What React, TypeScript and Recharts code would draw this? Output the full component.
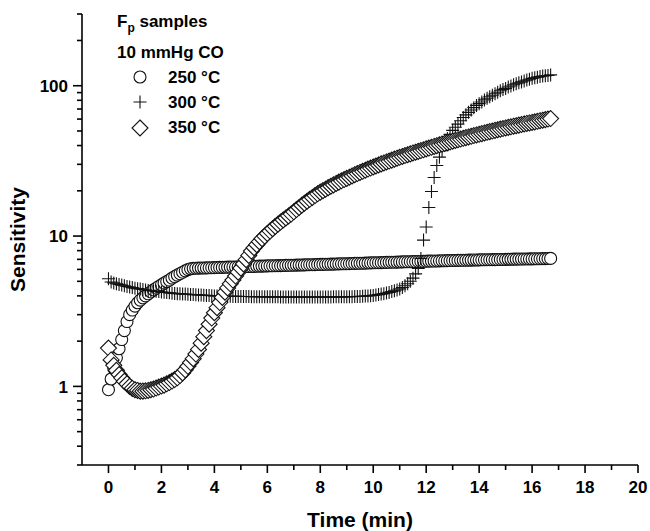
import { ScatterChart, Scatter, XAxis, YAxis } from 'recharts';

// sampling times (min), shared by the three runs
const TIME = [
  0, 0.1, 0.2, 0.3, 0.4, 0.5, 0.6, 0.7, 0.8, 0.9,
  1, 1.1, 1.2, 1.3, 1.4, 1.5, 1.6, 1.7, 1.8, 1.9,
  2, 2.1, 2.2, 2.3, 2.4, 2.5, 2.6, 2.7, 2.8, 2.9,
  3, 3.1, 3.2, 3.3, 3.4, 3.5, 3.6, 3.7, 3.8, 3.9,
  4, 4.1, 4.2, 4.3, 4.4, 4.5, 4.6, 4.7, 4.8, 4.9,
  5, 5.1, 5.2, 5.3, 5.4, 5.5, 5.6, 5.7, 5.8, 5.9,
  6, 6.1, 6.2, 6.3, 6.4, 6.5, 6.6, 6.7, 6.8, 6.9,
  7, 7.1, 7.2, 7.3, 7.4, 7.5, 7.6, 7.7, 7.8, 7.9,
  8, 8.1, 8.2, 8.3, 8.4, 8.5, 8.6, 8.7, 8.8, 8.9,
  9, 9.1, 9.2, 9.3, 9.4, 9.5, 9.6, 9.7, 9.8, 9.9,
  10, 10.1, 10.2, 10.3, 10.4, 10.5, 10.6, 10.7, 10.8, 10.9,
  11, 11.1, 11.2, 11.3, 11.4, 11.5, 11.6, 11.7, 11.8, 11.9,
  12, 12.1, 12.2, 12.3, 12.4, 12.5, 12.6, 12.7, 12.8, 12.9,
  13, 13.1, 13.2, 13.3, 13.4, 13.5, 13.6, 13.7, 13.8, 13.9,
  14, 14.1, 14.2, 14.3, 14.4, 14.5, 14.6, 14.7, 14.8, 14.9,
  15, 15.1, 15.2, 15.3, 15.4, 15.5, 15.6, 15.7, 15.8, 15.9,
  16, 16.1, 16.2, 16.3, 16.4, 16.5, 16.6, 16.7,
];

// 250 °C (circles)
const S250 = [
  0.95, 1.12, 1.32, 1.55, 1.78, 2.05, 2.35, 2.7, 3.0, 3.22,
  3.42, 3.6, 3.75, 3.88, 4.0, 4.13, 4.25, 4.38, 4.5, 4.62,
  4.74, 4.86, 4.98, 5.1, 5.25, 5.38, 5.5, 5.62, 5.75, 5.87,
  5.98, 6.06, 6.1, 6.11, 6.12, 6.13, 6.13, 6.14, 6.15, 6.16,
  6.17, 6.18, 6.19, 6.19, 6.2, 6.21, 6.22, 6.23, 6.23, 6.24,
  6.25, 6.26, 6.27, 6.27, 6.28, 6.29, 6.3, 6.31, 6.31, 6.32,
  6.33, 6.34, 6.34, 6.35, 6.36, 6.36, 6.37, 6.38, 6.39, 6.39,
  6.4, 6.41, 6.42, 6.42, 6.43, 6.44, 6.45, 6.45, 6.46, 6.47,
  6.48, 6.48, 6.49, 6.5, 6.51, 6.51, 6.52, 6.53, 6.54, 6.54,
  6.55, 6.56, 6.57, 6.58, 6.59, 6.59, 6.6, 6.61, 6.62, 6.63,
  6.64, 6.65, 6.65, 6.66, 6.67, 6.68, 6.69, 6.7, 6.7, 6.71,
  6.72, 6.73, 6.74, 6.74, 6.75, 6.76, 6.77, 6.78, 6.78, 6.79,
  6.8, 6.81, 6.82, 6.82, 6.83, 6.84, 6.85, 6.85, 6.86, 6.87,
  6.88, 6.88, 6.89, 6.9, 6.9, 6.91, 6.92, 6.92, 6.93, 6.93,
  6.94, 6.95, 6.95, 6.96, 6.96, 6.97, 6.97, 6.98, 6.99, 6.99,
  7.0, 7.01, 7.01, 7.02, 7.02, 7.03, 7.03, 7.04, 7.04, 7.05,
  7.05, 7.06, 7.06, 7.07, 7.08, 7.08, 7.09, 7.1,
];

// 300 °C (crosses)
const S300 = [
  5.2, 4.95, 4.88, 4.82, 4.77, 4.72, 4.67, 4.62, 4.58, 4.54,
  4.5, 4.47, 4.44, 4.41, 4.38, 4.35, 4.33, 4.31, 4.29, 4.27,
  4.25, 4.23, 4.21, 4.19, 4.17, 4.15, 4.14, 4.13, 4.12, 4.11,
  4.1, 4.09, 4.08, 4.07, 4.06, 4.05, 4.04, 4.03, 4.02, 4.01,
  4.0, 4.0, 3.99, 3.99, 3.98, 3.98, 3.98, 3.97, 3.97, 3.97,
  3.96, 3.96, 3.96, 3.96, 3.95, 3.95, 3.95, 3.95, 3.95, 3.94,
  3.94, 3.94, 3.94, 3.94, 3.94, 3.93, 3.93, 3.93, 3.93, 3.93,
  3.93, 3.93, 3.93, 3.93, 3.93, 3.93, 3.93, 3.93, 3.93, 3.93,
  3.93, 3.93, 3.93, 3.93, 3.93, 3.94, 3.94, 3.94, 3.94, 3.94,
  3.95, 3.95, 3.95, 3.96, 3.96, 3.97, 3.98, 3.99, 4.0, 4.01,
  4.03, 4.05, 4.08, 4.11, 4.14, 4.18, 4.22, 4.27, 4.32, 4.38,
  4.45, 4.55, 4.67, 4.82, 5.0, 5.25, 5.6, 6.1, 7.1, 9.4,
  11.5, 15.5, 19.8, 24.5, 29.5, 33.5, 37, 41, 44.5, 47.5,
  50.5, 53, 55.5, 58.5, 61.5, 64, 66.5, 69, 71.5, 74,
  76, 78, 80.5, 82.5, 84.5, 86.5, 88.5, 90.5, 92.5, 94.5,
  96, 98, 99.5, 101.5, 103, 104.5, 106, 107.5, 109, 110.5,
  112, 113, 114, 115, 116, 116.5, 117, 118,
];

// 350 °C (diamonds)
const S350 = [
  1.8, 1.5, 1.38, 1.28, 1.2, 1.14, 1.08, 1.04, 1.0, 0.97,
  0.95, 0.94, 0.93, 0.93, 0.935, 0.94, 0.95, 0.96, 0.975, 0.99,
  1.005, 1.02, 1.04, 1.06, 1.085, 1.11, 1.14, 1.18, 1.23, 1.29,
  1.36, 1.44, 1.53, 1.64, 1.76, 1.94, 2.14, 2.35, 2.59, 2.85,
  3.09, 3.34, 3.61, 3.91, 4.23, 4.52, 4.81, 5.1, 5.42, 5.75,
  6.12, 6.53, 6.97, 7.43, 7.94, 8.36, 8.77, 9.18, 9.6, 10.0,
  10.4, 10.8, 11.2, 11.6, 12.0, 12.4, 12.8, 13.2, 13.6, 14.0,
  14.5, 15.0, 15.5, 16.05, 16.55, 17.05, 17.55, 18.05, 18.6, 19.1,
  19.6, 20.05, 20.5, 21.0, 21.45, 21.9, 22.4, 22.85, 23.3, 23.75,
  24.2, 24.65, 25.1, 25.6, 26.05, 26.5, 26.95, 27.4, 27.9, 28.35,
  28.8, 29.25, 29.7, 30.2, 30.65, 31.1, 31.55, 32.0, 32.5, 32.95,
  33.4, 33.85, 34.3, 34.75, 35.2, 35.7, 36.15, 36.6, 37.05, 37.5,
  38.0, 38.5, 38.95, 39.45, 39.9, 40.4, 40.9, 41.35, 41.85, 42.3,
  42.8, 43.25, 43.75, 44.2, 44.7, 45.15, 45.65, 46.1, 46.6, 47.05,
  47.5, 48.0, 48.5, 49.0, 49.5, 49.95, 50.45, 50.95, 51.45, 51.9,
  52.4, 52.85, 53.3, 53.8, 54.25, 54.7, 55.2, 55.65, 56.1, 56.55,
  57.0, 57.5, 58.0, 58.5, 59.0, 59.5, 60.0, 60.5,
];

const X_TICKS = [0, 1, 2, 3, 4, 5, 6, 7, 8, 9, 10, 11, 12, 13, 14, 15, 16, 17, 18, 19, 20];
const Y_TICKS = [
  0.3, 0.4, 0.5, 0.6, 0.7, 0.8, 0.9,
  1, 2, 3, 4, 5, 6, 7, 8, 9,
  10, 20, 30, 40, 50, 60, 70, 80, 90,
  100, 200, 300,
];
const Y_LABELS = [1, 10, 100];

const FONT = '"Liberation Sans", Arial, Helvetica, sans-serif';
const INK = '#111';

const toPoints = (vals: number[]) => vals.map((v, i) => ({ t: TIME[i], v }));

function CircleDot({ cx, cy }: any) {
  return <circle cx={cx} cy={cy} r={6} fill="#fff" stroke={INK} strokeWidth={1.1} />;
}

function CrossDot({ cx, cy }: any) {
  const a = 6.5;
  return (
    <path d={`M${cx - a},${cy}H${cx + a}M${cx},${cy - a}V${cy + a}`} stroke={INK} strokeWidth={1.1} fill="none" />
  );
}

function DiamondDot({ cx, cy }: any) {
  const a = 8;
  return (
    <polygon
      points={`${cx},${cy - a} ${cx + a},${cy} ${cx},${cy + a} ${cx - a},${cy}`}
      fill="#fff"
      stroke={INK}
      strokeWidth={1.1}
    />
  );
}

function XTick({ x, y, payload }: any) {
  const major = payload.value % 2 === 0;
  return (
    <g>
      <line x1={x} x2={x} y1={y} y2={y + (major ? 8 : 5)} stroke="#000" strokeWidth={1.6} />
      {major && (
        <text x={x} y={y + 28} textAnchor="middle" fontFamily={FONT} fontWeight="bold" fontSize={17} fill="#000">
          {payload.value}
        </text>
      )}
    </g>
  );
}

function YTick({ x, y, payload }: any) {
  const major = Y_LABELS.includes(payload.value);
  return (
    <g>
      <line x1={x - (major ? 9 : 5)} x2={x} y1={y} y2={y} stroke="#000" strokeWidth={1.6} />
      {major && (
        <text x={x - 14} y={y} dy="0.36em" textAnchor="end" fontFamily={FONT} fontWeight="bold" fontSize={17} fill="#000">
          {payload.value}
        </text>
      )}
    </g>
  );
}

const legendText = { fontFamily: FONT, fontWeight: 'bold' as const, fontSize: 17, fill: '#000' };

export default function App() {
  return (
    <div style={{ position: 'fixed', left: 0, top: 0, width: 650, height: 531, background: '#fff' }}>
      <ScatterChart width={650} height={531} margin={{ top: 14, right: 12, left: 0, bottom: 0 }}>
        <XAxis
          type="number"
          dataKey="t"
          domain={[-1, 20]}
          ticks={X_TICKS}
          interval={0}
          tickSize={0}
          tickMargin={0}
          tickLine={false}
          tick={<XTick />}
          height={66}
          axisLine={{ stroke: '#000', strokeWidth: 1.6 }}
          label={{
            value: 'Time (min)',
            position: 'insideBottom',
            offset: 4,
            style: { fontFamily: FONT, fontWeight: 'bold', fontSize: 21, fill: '#000' },
          }}
        />
        <YAxis
          type="number"
          dataKey="v"
          scale="log"
          domain={[0.3, 300]}
          allowDataOverflow
          ticks={Y_TICKS}
          interval={0}
          tickSize={0}
          tickMargin={0}
          tickLine={false}
          tick={<YTick />}
          width={82}
          axisLine={{ stroke: '#000', strokeWidth: 1.6 }}
          label={{
            value: 'Sensitivity',
            angle: -90,
            position: 'insideLeft',
            offset: 18,
            style: { textAnchor: 'middle', fontFamily: FONT, fontWeight: 'bold', fontSize: 21, fill: '#000' },
          }}
        />
        <Scatter data={toPoints(S250)} shape={<CircleDot />} isAnimationActive={false} />
        <Scatter data={toPoints(S300)} shape={<CrossDot />} isAnimationActive={false} />
        <Scatter data={toPoints(S350)} shape={<DiamondDot />} isAnimationActive={false} />
      </ScatterChart>
      <svg width={650} height={531} style={{ position: 'absolute', left: 0, top: 0, pointerEvents: 'none' }}>
        <text x={117} y={27} {...legendText}>
          F<tspan dy={5} fontSize={12}>p</tspan>
          <tspan dy={-5}> samples</tspan>
        </text>
        <text x={117} y={58} {...legendText}>10 mmHg CO</text>
        <CircleDot cx={140} cy={77} />
        <text x={168} y={83} {...legendText}>250 °C</text>
        <CrossDot cx={140} cy={102} />
        <text x={168} y={108} {...legendText}>300 °C</text>
        <DiamondDot cx={140} cy={128} />
        <text x={168} y={133} {...legendText}>350 °C</text>
      </svg>
    </div>
  );
}
